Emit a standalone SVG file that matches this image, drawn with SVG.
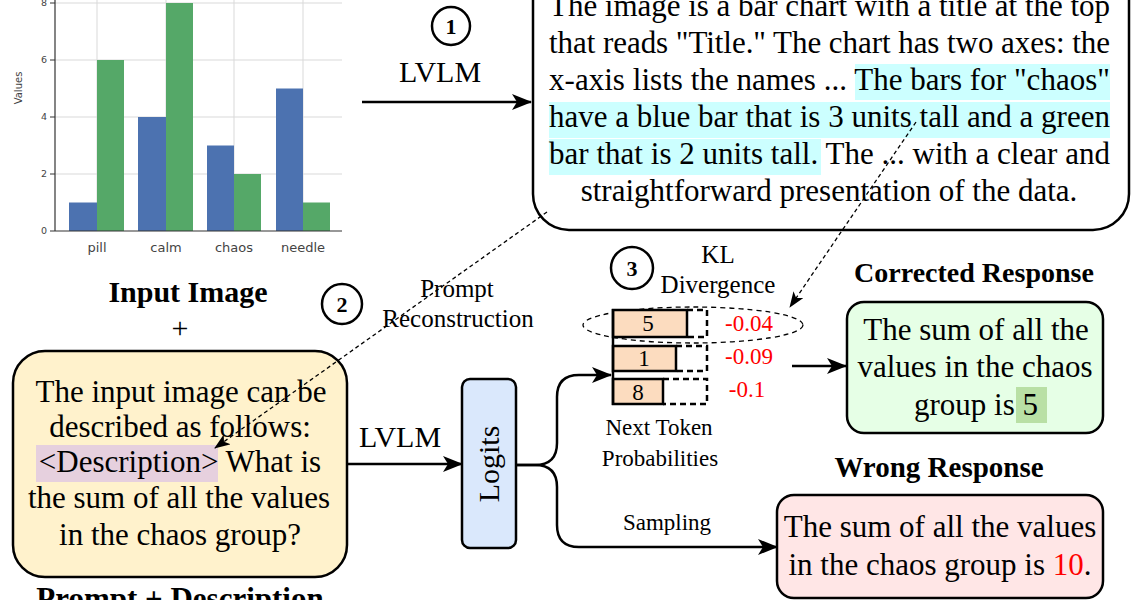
<svg xmlns="http://www.w3.org/2000/svg" width="1136" height="600" viewBox="0 0 1136 600">
<defs>
<style>
.serif{font-family:"Liberation Serif","Times New Roman",serif;fill:#000}
.t31{font-size:31px}
.t30{font-size:31px}
.lbl{font-size:25px}
.sm{font-size:23px}
.bold{font-weight:bold}
.red{fill:#ff0000}
.box{stroke:#000;stroke-width:2.5}
.conn{fill:none;stroke:#000;stroke-width:2.5}
.dash{fill:none;stroke:#000;stroke-width:1.3;stroke-dasharray:4 3}
.chart{font-family:"DejaVu Sans",sans-serif;fill:#444}
.grid{stroke:#d9d9d9;stroke-width:1}
.circ{fill:#fff;stroke:#000;stroke-width:2.5}
</style>
<marker id="ah" viewBox="0 0 20 16" markerWidth="20" markerHeight="16" refX="19" refY="8" orient="auto" markerUnits="userSpaceOnUse">
<path d="M0,0 L20,8 L0,16 L5,8 z" fill="#000"/>
</marker>
<marker id="ahs" viewBox="0 0 16 12" markerWidth="16" markerHeight="12" refX="15" refY="6" orient="auto" markerUnits="userSpaceOnUse">
<path d="M0,0 L16,6 L0,12 L4,6 z" fill="#000"/>
</marker>
</defs>
<rect width="1136" height="600" fill="#fff"/>

<g id="chart">
<g class="grid">
<line x1="55" y1="3" x2="342" y2="3"/>
<line x1="55" y1="60" x2="342" y2="60"/>
<line x1="55" y1="117" x2="342" y2="117"/>
<line x1="55" y1="174" x2="342" y2="174"/>
<line x1="97" y1="0" x2="97" y2="231"/>
<line x1="166" y1="0" x2="166" y2="231"/>
<line x1="234" y1="0" x2="234" y2="231"/>
<line x1="303" y1="0" x2="303" y2="231"/>
</g>
<g fill="#4c72b0">
<rect x="69" y="202.5" width="28" height="28.5"/>
<rect x="138" y="117" width="28" height="114"/>
<rect x="207" y="145.5" width="27" height="85.5"/>
<rect x="276" y="88.5" width="27" height="142.5"/>
</g>
<g fill="#55a868">
<rect x="97" y="60" width="27" height="171"/>
<rect x="166" y="3" width="27" height="228"/>
<rect x="234" y="174" width="27" height="57"/>
<rect x="303" y="202.5" width="27" height="28.5"/>
</g>
<line x1="55" y1="0" x2="55" y2="231" stroke="#333" stroke-width="1.2"/>
<line x1="55" y1="231" x2="342" y2="231" stroke="#333" stroke-width="1.2"/>
<g stroke="#333" stroke-width="1">
<line x1="50" y1="3" x2="55" y2="3"/>
<line x1="50" y1="60" x2="55" y2="60"/>
<line x1="50" y1="117" x2="55" y2="117"/>
<line x1="50" y1="174" x2="55" y2="174"/>
<line x1="50" y1="231" x2="55" y2="231"/>
</g>
<g class="chart" font-size="9.5" text-anchor="end">
<text x="47" y="6">8</text>
<text x="47" y="63">6</text>
<text x="47" y="120">4</text>
<text x="47" y="177">2</text>
<text x="47" y="234">0</text>
</g>
<text class="chart" font-size="10" text-anchor="middle" transform="translate(22,88) rotate(-90)">Values</text>
<g class="chart" font-size="13" text-anchor="middle">
<text x="97" y="252">pill</text>
<text x="166" y="252">calm</text>
<text x="234" y="252">chaos</text>
<text x="303" y="252">needle</text>
</g>
</g>

<g id="label-lvlm1">
<circle class="circ" cx="451" cy="26" r="19"/>
<text class="serif bold" x="451" y="34" font-size="22" text-anchor="middle">1</text>
<text class="serif" x="440" y="82" font-size="30" text-anchor="middle">LVLM</text>
</g>

<g id="description-box">
<rect class="box" x="533" y="-40" width="596" height="270" rx="36" fill="#fff"/>
<g fill="#ccffff">
<rect x="855" y="64" width="255" height="36"/>
<rect x="549" y="102" width="561" height="36"/>
<rect x="549" y="139" width="272" height="36"/>
</g>
<g class="serif t31">
<text x="549" y="16" textLength="561" lengthAdjust="spacing">The image is a bar chart with a title at the top</text>
<text x="549" y="53" textLength="561" lengthAdjust="spacing">that reads "Title." The chart has two axes: the</text>
<text x="549" y="90" textLength="561" lengthAdjust="spacing">x-axis lists the names ... The bars for "chaos"</text>
<text x="549" y="127" textLength="561" lengthAdjust="spacing">have a blue bar that is 3 units tall and a green</text>
<text x="549" y="164" textLength="561" lengthAdjust="spacing">bar that is 2 units tall. The ... with a clear and</text>
<text x="829" y="201" text-anchor="middle">straightforward presentation of the data.</text>
</g>
</g>

<g id="input-title">
<text class="serif bold" x="188" y="302" font-size="30" text-anchor="middle">Input Image</text>
<text class="serif" x="180" y="338" font-size="30" text-anchor="middle">+</text>
</g>

<g id="step2">
<circle class="circ" cx="342" cy="304" r="20"/>
<text class="serif bold" x="342" y="312" font-size="22" text-anchor="middle">2</text>
<text class="serif lbl" x="457" y="297" text-anchor="middle">Prompt</text>
<text class="serif lbl" x="458" y="327" text-anchor="middle">Reconstruction</text>
</g>

<g id="prompt-box">
<rect class="box" x="13" y="351" width="334" height="226" rx="32" fill="#fff2cc"/>
<rect x="36" y="445" width="182" height="37" fill="#e6d0de"/>
<g class="serif t30" text-anchor="middle">
<text x="181" y="402">The input image can be</text>
<text x="180" y="437">described as follows:</text>
<text x="180" y="472">&lt;Description&gt; What is</text>
<text x="179" y="508">the sum of all the values</text>
<text x="180" y="545">in the chaos group?</text>
</g>
<text class="serif bold" x="180" y="609" font-size="31" text-anchor="middle">Prompt + Description</text>
</g>

<g id="label-lvlm2">
<text class="serif" x="400" y="447" font-size="30" text-anchor="middle">LVLM</text>
</g>

<g id="logits">
<rect class="box" x="462" y="379" width="54" height="169" rx="8" fill="#dae8fc"/>
<text class="serif" font-size="30" text-anchor="middle" transform="translate(499,464) rotate(-90)">Logits</text>
</g>

<g id="tokens">
<circle class="circ" cx="632" cy="268" r="21"/>
<text class="serif bold" x="632" y="276" font-size="22" text-anchor="middle">3</text>
<text class="serif lbl" x="718" y="263" text-anchor="middle">KL</text>
<text class="serif lbl" x="718" y="293" text-anchor="middle">Divergence</text>
<ellipse cx="693" cy="325" rx="110" ry="18" fill="none" stroke="#000" stroke-width="1.3" stroke-dasharray="5 4"/>
<g fill="#fcdcbf" stroke="#000" stroke-width="2.5">
<rect x="613" y="310" width="74" height="27"/>
<rect x="613" y="346" width="63" height="25"/>
<rect x="613" y="379" width="50" height="25"/>
</g>
<g fill="none" stroke="#000" stroke-width="2.5" stroke-dasharray="6 4">
<path d="M687,310 H707 V337 H687"/>
<path d="M676,346 H707 V371 H676"/>
<path d="M663,379 H707 V404 H663"/>
</g>
<line x1="613" y1="309" x2="613" y2="405" stroke="#000" stroke-width="2.5"/>
<g class="serif sm" text-anchor="middle">
<text x="648" y="331">5</text>
<text x="644" y="366">1</text>
<text x="638" y="400">8</text>
</g>
<g class="serif sm red" text-anchor="middle">
<text x="749" y="331">-0.04</text>
<text x="749" y="364">-0.09</text>
<text x="747" y="397">-0.1</text>
</g>
<text class="serif sm" x="659" y="435" text-anchor="middle">Next Token</text>
<text class="serif sm" x="660" y="466" text-anchor="middle">Probabilities</text>
</g>

<g id="sampling-label">
<text class="serif sm" x="667" y="530" text-anchor="middle">Sampling</text>
</g>

<g id="corrected">
<text class="serif bold" x="974" y="282" font-size="28" text-anchor="middle">Corrected Response</text>
<rect class="box" x="847" y="302" width="256" height="131" rx="17" fill="#e6ffe6"/>
<rect x="1016" y="387" width="31" height="36" fill="#b9e0a5"/>
<g class="serif t30" text-anchor="middle">
<text x="976" y="340">The sum of all the</text>
<text x="975" y="377">values in the chaos</text>
<text x="976" y="415">group is 5</text>
</g>
</g>

<g id="wrong">
<text class="serif bold" x="939" y="477" font-size="29" text-anchor="middle">Wrong Response</text>
<rect class="box" x="777" y="495" width="326" height="103" rx="17" fill="#ffe6e6"/>
<g class="serif t30" text-anchor="middle">
<text x="940" y="537">The sum of all the values</text>
<text x="940" y="575">in the chaos group is <tspan class="red">10</tspan>.</text>
</g>
</g>

<g id="connectors">
<line class="conn" x1="362" y1="102" x2="531" y2="102" marker-end="url(#ah)"/>
<line class="conn" x1="347" y1="464" x2="462" y2="464" marker-end="url(#ah)"/>
<path class="conn" d="M517,465 L535,465 Q557,465 557,443 L557,397 Q557,375 579,375 L611,375" marker-end="url(#ah)"/>
<path class="conn" d="M517,465 L535,465 Q557,465 557,487 L557,525 Q557,547 579,547 L777,547" marker-end="url(#ah)"/>
<line class="conn" x1="792" y1="366" x2="846" y2="366" marker-end="url(#ah)"/>
<line class="dash" x1="547" y1="212" x2="215" y2="448" marker-end="url(#ahs)"/>
<line class="dash" x1="916" y1="122" x2="790" y2="307" marker-end="url(#ahs)"/>
</g>
</svg>
